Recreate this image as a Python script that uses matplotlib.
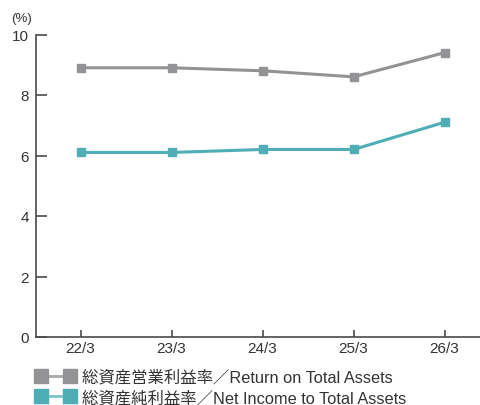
import matplotlib
matplotlib.use("Agg")
import matplotlib.pyplot as plt
from matplotlib.lines import Line2D

plt.rcParams['font.family'] = ['Liberation Sans', 'Noto Sans CJK JP', 'DejaVu Sans']

categories = ["22/3", "23/3", "24/3", "25/3", "26/3"]
roa = [8.9, 8.9, 8.8, 8.6, 9.4]
ni_ta = [6.1, 6.1, 6.2, 6.2, 7.1]
labels = ["総資産営業利益率／Return on Total Assets", "総資産純利益率／Net Income to Total Assets"]
yticks = [0, 2, 4, 6, 8, 10]

gray = "#939396"
teal = "#4fadb5"
axis_c = "#4a4a4a"
text_c = "#333333"

fig = plt.figure(figsize=(4.81, 4.06), dpi=100)
ax = fig.add_axes([36/481, 1-338/406, (481-36)/481, (338-35.5)/406])

x = list(range(len(categories)))
ax.plot(x, roa, color=gray, lw=2.2, marker='s', ms=6, mec=gray, mfc=gray, label=labels[0], zorder=3)
ax.plot(x, ni_ta, color=teal, lw=2.2, marker='s', ms=6, mec=teal, mfc=teal, label=labels[1], zorder=3)

ax.set_xlim(-0.49, 4.40)
ax.set_ylim(0, 10)
ax.set_xticks(x)
ax.set_xticklabels(categories)
ax.set_yticks(yticks)
for s in ['top', 'right']:
    ax.spines[s].set_visible(False)
for s in ['left', 'bottom']:
    ax.spines[s].set_color(axis_c)
    ax.spines[s].set_linewidth(1.2)
ax.tick_params(axis='y', direction='in', length=8, width=1.2, color=axis_c, labelsize=11, pad=5, labelcolor=text_c)
ax.tick_params(axis='x', direction='in', length=5, width=1.2, color=axis_c, labelsize=11, pad=3, labelcolor=text_c)
fig.text(11/481, 1-19/406, "(%)", fontsize=9.5, color=text_c, va='center', ha='left')

handles = [Line2D([0], [0], color="#a8a8aa", lw=2, marker='s', ms=9.5, mec=gray, mfc=gray),
           Line2D([0], [0], color="#7cc3c9", lw=2, marker='s', ms=9.5, mec=teal, mfc=teal)]
fig.legend(handles, labels, loc='upper left', bbox_to_anchor=(36/481, 1-370/406),
           numpoints=2, handlelength=2.35, handletextpad=0.45, labelspacing=0.3,
           frameon=False, fontsize=11.8, borderaxespad=0, borderpad=0,
           labelcolor=text_c)

fig.savefig("out.png", dpi=100)
